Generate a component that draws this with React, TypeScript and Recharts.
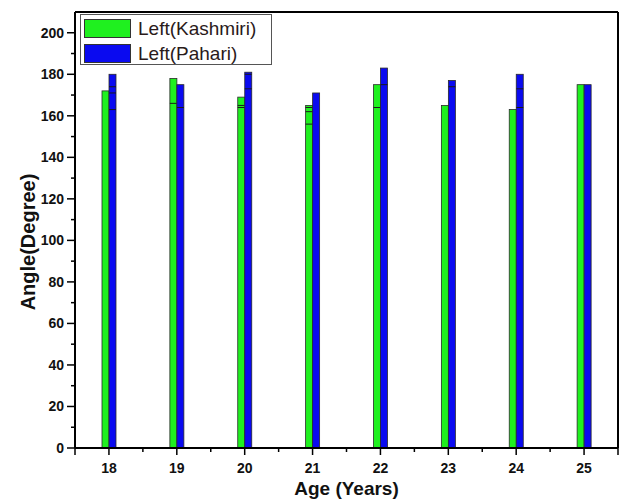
import React from "react";
import { BarChart, Bar, XAxis, YAxis, ReferenceLine } from "recharts";

const ages = [18, 19, 20, 21, 22, 23, 24, 25];
const kashmiri = [172, 178, 169, 165, 175, 165, 163, 175];
const pahari = [180, 175, 181, 171, 183, 177, 180, 175];
// faint inner lines visible inside the bars (overlapping values)
const kashmiriMarks = [[], [166], [165, 164], [164, 162, 156], [164], [], [], []];
const pahariMarks = [[174, 171, 163], [164], [180, 173], [], [175], [174], [173, 164], []];

const yTicks = [0, 10, 20, 30, 40, 50, 60, 70, 80, 90, 100, 110, 120, 130, 140, 150, 160, 170, 180, 190, 200];
const xTicks = [17.5, 18, 18.5, 19, 19.5, 20, 20.5, 21, 21.5, 22, 22.5, 23, 23.5, 24, 24.5, 25, 25.5];

const GREEN = "#1ff01f";
const BLUE = "#0a0af0";
const FONT = "'Liberation Sans', Arial, sans-serif";

const rows = ages.map((age, i) => ({
  age,
  kashmiri: kashmiri[i],
  pahari: pahari[i],
  kMarks: kashmiriMarks[i],
  pMarks: pahariMarks[i],
}));

function BarShape(props: any) {
  const { x, y, width, height, fill, value, marks } = props;
  const v = Array.isArray(value) ? value[1] : value;
  return (
    <g>
      <rect x={x} y={y} width={width} height={height} fill={fill} stroke="#2a2a2a" strokeWidth={0.8} />
      {(marks || []).map((m: number, i: number) => {
        const my = y + height * (1 - m / v);
        return <line key={i} x1={x} x2={x + width} y1={my} y2={my} stroke="#1a1a1a" strokeWidth={1} />;
      })}
    </g>
  );
}

function YTick(props: any) {
  const { x, y, payload } = props;
  const v = payload.value;
  const major = v % 20 === 0;
  return (
    <g>
      <line x1={x - (major ? 8 : 4)} x2={x} y1={y} y2={y} stroke="#000" strokeWidth={1.5} />
      {major && (
        <text x={x - 11} y={y} dy="0.35em" textAnchor="end" fontFamily={FONT} fontWeight={700} fontSize={14} fill="#111">
          {v}
        </text>
      )}
    </g>
  );
}

function XTick(props: any) {
  const { x, y, payload } = props;
  const v = payload.value;
  const major = Number.isInteger(v);
  const edge = v === 17.5 || v === 25.5;
  return (
    <g>
      <line x1={x} x2={x} y1={y} y2={y + (major || edge ? 7 : 4)} stroke="#000" strokeWidth={1.5} />
      {major && (
        <text x={x} y={y + 25} textAnchor="middle" fontFamily={FONT} fontWeight={700} fontSize={14} fill="#111">
          {v}
        </text>
      )}
    </g>
  );
}

function LegendBox() {
  const item = (color: string, label: string) => (
    <div style={{ display: "flex", alignItems: "center", height: 25 }}>
      <span
        style={{
          display: "inline-block",
          width: 45,
          height: 17,
          background: color,
          border: "1px solid #333",
          marginRight: 7,
        }}
      />
      <span style={{ fontSize: 19, color: "#2a1a1a", fontFamily: FONT, lineHeight: "20px" }}>{label}</span>
    </div>
  );
  return (
    <div
      style={{
        position: "absolute",
        left: 80,
        top: 14,
        width: 192,
        height: 51,
        border: "1px solid #555",
        background: "#fff",
        boxSizing: "border-box",
        padding: "1px 0 0 3px",
      }}
    >
      {item(GREEN, "Left(Kashmiri)")}
      {item(BLUE, "Left(Pahari)")}
    </div>
  );
}

export default function App() {
  return (
    <div style={{ position: "relative", width: 626, height: 499, background: "#fff" }}>
      <style>{`body{margin:0}`}</style>
      <BarChart
        width={626}
        height={499}
        data={rows}
        margin={{ top: 12, right: 8, bottom: 0, left: 0 }}
        barGap={0}
        barSize={7}
      >
        <XAxis
          dataKey="age"
          type="number"
          domain={[17.5, 25.5]}
          ticks={xTicks}
          interval={0}
          height={51}
          tickSize={0}
          tickMargin={0}
          tickLine={false}
          axisLine={{ stroke: "#000", strokeWidth: 2 }}
          tick={<XTick />}
          label={(p: any) => {
            const vb = p.viewBox || {};
            return (
              <text
                x={(vb.x ?? 75) + (vb.width ?? 543) / 2}
                y={(vb.y ?? 448) + 47}
                textAnchor="middle"
                fontFamily={FONT}
                fontWeight={700}
                fontSize={19}
                fill="#111"
              >
                Age (Years)
              </text>
            );
          }}
        />
        <YAxis
          type="number"
          domain={[0, 210]}
          ticks={yTicks}
          interval={0}
          width={75}
          tickSize={0}
          tickMargin={0}
          tickLine={false}
          allowDataOverflow
          axisLine={{ stroke: "#000", strokeWidth: 2 }}
          tick={<YTick />}
          label={(p: any) => {
            const vb = p.viewBox || {};
            const cy = (vb.y ?? 12) + (vb.height ?? 436) / 2 + 12;
            return (
              <text
                x={28}
                y={cy}
                transform={`rotate(-90, 28, ${cy})`}
                dy="0.35em"
                textAnchor="middle"
                fontFamily={FONT}
                fontWeight={700}
                fontSize={20}
                fill="#111"
              >
                Angle(Degree)
              </text>
            );
          }}
        />
        <ReferenceLine y={210} stroke="#000" strokeWidth={2} />
        <ReferenceLine x={25.5} stroke="#000" strokeWidth={2} />
        <Bar
          dataKey="kashmiri"
          fill={GREEN}
          isAnimationActive={false}
          shape={(p: any) => <BarShape {...p} marks={p.payload.kMarks} />}
        />
        <Bar
          dataKey="pahari"
          fill={BLUE}
          isAnimationActive={false}
          shape={(p: any) => <BarShape {...p} marks={p.payload.pMarks} />}
        />
      </BarChart>
      <LegendBox />
    </div>
  );
}
